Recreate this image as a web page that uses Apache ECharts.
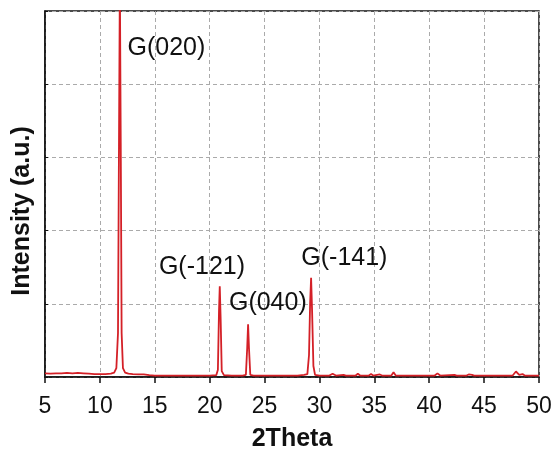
<!DOCTYPE html>
<html>
<head>
<meta charset="utf-8">
<script src="https://cdn.jsdelivr.net/npm/echarts@6/dist/echarts.min.js"></script>
<style>html,body{margin:0;padding:0;background:#fff;}#c{width:553px;height:450px;}</style>
</head>
<body>
<div id="c"></div>
<script>
var twoTheta = [5.0,5.5,6.0,6.5,7.0,7.5,8.0,8.5,9.0,9.5,10.0,10.5,11.0,11.3,11.5,11.65,11.75,11.82,11.9,11.98,12.1,12.3,12.6,13.0,13.5,14.0,14.5,15.0,16,17,18,19,20,20.6,20.75,20.85,20.92,21.0,21.1,21.3,22,23.0,23.3,23.42,23.5,23.58,23.7,24,25,26,27,28,28.6,28.9,29.05,29.15,29.24,29.33,29.45,29.6,30,30.9,31.2,31.5,32.2,32.4,33.3,33.5,33.7,34.5,34.7,34.9,35.5,35.7,36.55,36.75,36.95,38,40.5,40.75,41.0,42.3,42.5,43.4,43.6,43.9,44.1,45.5,45.65,45.8,47.6,47.9,48.2,48.5,48.7,50];
var intensity = [0.05,0.045,0.05,0.05,0.055,0.05,0.055,0.05,0.045,0.04,0.04,0.04,0.045,0.06,0.12,0.6,3.5,5.4,3.2,0.6,0.12,0.06,0.045,0.04,0.035,0.035,0.025,0.02,0.02,0.018,0.02,0.02,0.02,0.025,0.1,0.9,1.24,0.8,0.08,0.025,0.02,0.02,0.03,0.4,0.72,0.4,0.03,0.02,0.02,0.02,0.02,0.02,0.03,0.04,0.3,1.0,1.355,0.9,0.15,0.03,0.02,0.02,0.045,0.02,0.03,0.02,0.02,0.045,0.02,0.02,0.04,0.02,0.035,0.02,0.02,0.065,0.02,0.02,0.02,0.05,0.02,0.03,0.02,0.02,0.035,0.03,0.02,0.02,0.035,0.02,0.02,0.075,0.03,0.04,0.02,0.02];
var peakLabels = ['G(020)','G(-121)','G(040)','G(-141)'];
var labelX = [16.06,19.3,25.3,32.27];
var labelY = [4.49,1.50,1.01,1.62];
var xTicks = [5,10,15,20,25,30,35,40,45,50];

var lineData = twoTheta.map(function(x,i){return [x,intensity[i]];});
var labelData = peakLabels.map(function(t,i){return {value:[labelX[i],labelY[i]],name:t};});

var chart = echarts.init(document.getElementById('c'),null,{renderer:'canvas'});
chart.setOption({
  animation:false,
  backgroundColor:'#fff',
  grid:{left:45,right:14,top:11,bottom:73,containLabel:false,outerBoundsMode:'none',show:true,borderColor:'#111',borderWidth:1.5,backgroundColor:'transparent'},
  xAxis:{
    type:'value',min:xTicks[0],max:xTicks[xTicks.length-1],interval:5,
    name:'2Theta',nameLocation:'middle',nameGap:50,
    nameTextStyle:{fontFamily:'Liberation Sans, Arial, sans-serif',fontSize:25,fontWeight:'bold',color:'#111'},
    axisLine:{show:true,onZero:false,lineStyle:{color:'#111',width:1.5}},
    axisTick:{show:true,inside:false,length:6,lineStyle:{color:'#111',width:1.5}},
    axisLabel:{show:true,margin:18,fontFamily:'Liberation Sans, Arial, sans-serif',fontSize:23,color:'#111'},
    splitLine:{show:true,lineStyle:{color:'#aaa',type:[4,3],width:1}}
  },
  yAxis:{
    type:'value',min:0,max:5,interval:1,
    name:'Intensity (a.u.)',nameLocation:'middle',nameGap:10,nameRotate:90,
    nameTextStyle:{fontFamily:'Liberation Sans, Arial, sans-serif',fontSize:25,fontWeight:'bold',color:'#111',padding:[0,34,0,0]},
    axisLine:{show:true,onZero:false,lineStyle:{color:'#111',width:1.5}},
    axisTick:{show:true,inside:true,length:3,lineStyle:{color:'#111',width:1}},
    axisLabel:{show:false},
    splitLine:{show:true,lineStyle:{color:'#aaa',type:[4,3],width:1}}
  },
  series:[
    {type:'line',data:lineData,showSymbol:false,symbol:'none',clip:true,
     lineStyle:{color:'#d42027',width:1.8},z:3},
    {type:'scatter',data:labelData,symbolSize:0,silent:true,z:4,
     itemStyle:{opacity:1,color:'#111'},
     label:{show:true,position:'inside',opacity:1,formatter:function(p){return p.name;},
       fontFamily:'Liberation Sans, Arial, sans-serif',fontSize:25,color:'#111',
       textBorderWidth:0,align:'center',verticalAlign:'middle'}}
  ]
});
</script>
</body>
</html>
